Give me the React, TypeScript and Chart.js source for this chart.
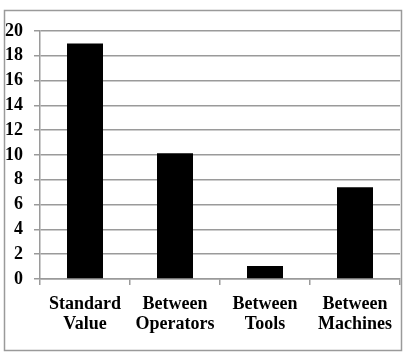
import React, { useEffect, useRef } from "react";
import { Chart, registerables } from "chart.js";

Chart.register(...registerables);

const categories: string[][] = [
  ["Standard", "Value"],
  ["Between", "Operators"],
  ["Between", "Tools"],
  ["Between", "Machines"],
];
const values: number[] = [19, 10.15, 1.05, 7.4];
const yMin = 0;
const yMax = 20;
const yStep = 2;

const FAMILY = "'Liberation Serif', 'Times New Roman', serif";
Chart.defaults.font.family = FAMILY;
Chart.defaults.font.weight = "bold" as any;
Chart.defaults.font.size = 18;
Chart.defaults.color = "#000";

const outerBorder = {
  id: "outerBorder",
  afterDraw(chart: any) {
    const ctx = chart.ctx;
    ctx.save();
    ctx.strokeStyle = "#9a9a9a";
    ctx.lineWidth = 1.5;
    ctx.strokeRect(4.5, 10.5, 397, 340);
    ctx.restore();
  },
};

export default function App() {
  const ref = useRef<HTMLCanvasElement | null>(null);
  useEffect(() => {
    if (!ref.current) return;
    const chart = new Chart(ref.current, {
      type: "bar",
      data: {
        labels: categories,
        datasets: [
          {
            data: values,
            backgroundColor: "#000000",
            borderWidth: 0,
            barPercentage: 0.4,
            categoryPercentage: 1,
          },
        ],
      },
      options: {
        animation: false,
        responsive: false,
        maintainAspectRatio: false,
        font: { family: FAMILY, size: 18, weight: "bold" },
        layout: { padding: { left: 0, right: 7, top: 31, bottom: 0 } },
        plugins: { legend: { display: false }, tooltip: { enabled: false } },
        scales: {
          x: {
            afterFit: (s: any) => {
              s.height = 352 - 279;
            },
            grid: {
              display: true,
              drawOnChartArea: false,
              drawTicks: true,
              tickLength: 6,
              color: "#9a9a9a",
              lineWidth: 1.5,
            },
            border: { display: true, color: "#9a9a9a", width: 1.5 },
            ticks: {
              color: "#000",
              padding: 9,
              maxRotation: 0,
              autoSkip: false,
              font: { family: FAMILY, size: 18, weight: "bold", lineHeight: 1.12 },
            },
          },
          y: {
            min: yMin,
            max: yMax,
            afterFit: (s: any) => {
              s.width = 40;
            },
            grid: {
              color: "#9a9a9a",
              lineWidth: 1.5,
              tickLength: 6,
            },
            border: { display: true, color: "#9a9a9a", width: 1.5 },
            ticks: {
              stepSize: yStep,
              color: "#000",
              padding: 11,
              font: { family: FAMILY, size: 18, weight: "bold" },
            },
          },
        },
      } as any,
      plugins: [outerBorder],
    });
    return () => chart.destroy();
  }, []);
  return (
    <div style={{ position: "absolute", left: 0, top: 0, width: 407, height: 352, background: "#fff" }}>
      <canvas ref={ref} width={407} height={352} style={{ width: 407, height: 352, display: "block" }} />
    </div>
  );
}
